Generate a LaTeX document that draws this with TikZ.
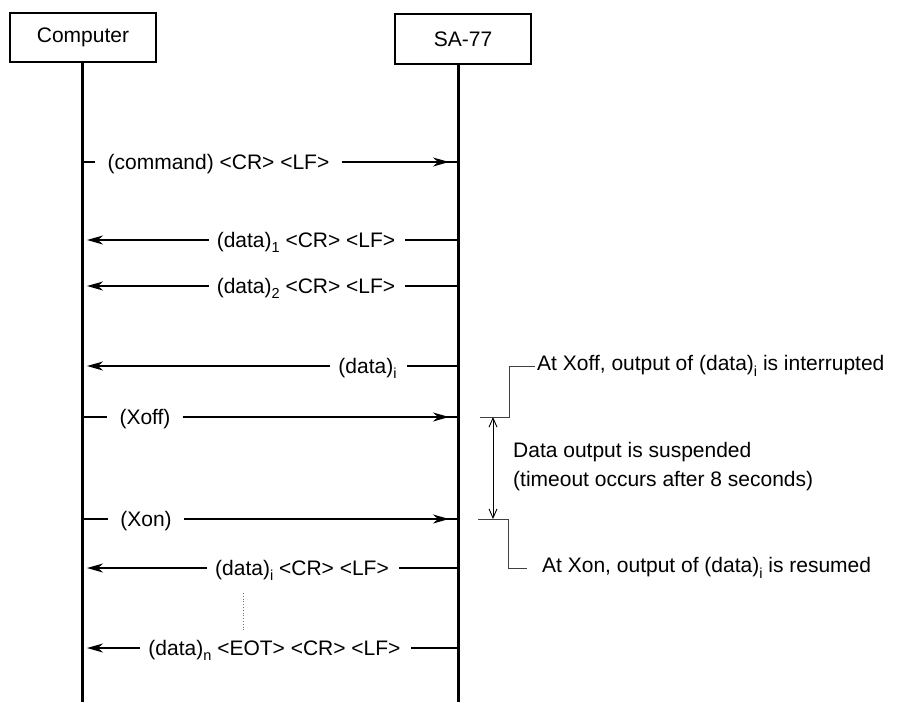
\documentclass[tikz,border=0pt]{standalone}
\usepackage{fontspec}
\setmainfont{Liberation Sans}
\usetikzlibrary{arrows.meta}
\newcommand\dsub[1]{\raisebox{-0.5ex}{\fontsize{14.5}{15}\selectfont #1}}
\begin{document}
\begin{tikzpicture}[x=1pt,y=-1pt,
  every node/.style={font=\fontsize{21}{29}\selectfont, inner sep=0pt},
  box/.style={draw, line width=2.5pt},
  life/.style={line width=3pt},
  msg/.style={line width=1.4pt},
  rtip/.style={-{Stealth[length=16pt,width=9pt,inset=5pt]}, shorten >=9pt},
  ltip/.style={-{Stealth[length=16pt,width=9pt,inset=5pt]}, shorten >=5pt},
  lbl/.style={anchor=base},
  note/.style={line width=0.8pt, black!75},
  dim/.style={line width=0.9pt, {Straight Barb[length=9pt,width=8pt]}-{Straight Barb[length=9pt,width=8pt]}}]
\useasboundingbox (0,0) rectangle (902,702);

% participants
\node[box, minimum width=146pt, minimum height=49pt] (comp) at (83,37.5) {Computer};
\node[box, minimum width=136pt, minimum height=50pt] (sa) at (463,39) {SA-77};
\coordinate (cend) at (82,702);
\coordinate (send) at (458,702);
\draw[life] (comp.south -| cend) -- (cend);
\draw[life] (sa.south -| send) -- (send);

% message coordinates
\foreach \n/\y in {1/162,2/240,3/286,4/366,5/417,6/519,7/568,8/648}{
  \coordinate (c\n) at (82,\y);
  \coordinate (s\n) at (458,\y);
}

% labels
\node[lbl] (t1) at (218.5,169) {(command) <CR> <LF>};
\node[lbl] (t2) at (306,247) {(data)\dsub{1} <CR> <LF>};
\node[lbl] (t3) at (306,293) {(data)\dsub{2} <CR> <LF>};
\node[lbl] (t4) at (367.5,373) {(data)\dsub{i}};
\node[lbl] (t5) at (145,424) {(Xoff)};
\node[lbl] (t6) at (146,526) {(Xon)};
\node[lbl] (t7) at (302,575) {(data)\dsub{i} <CR> <LF>};
\node[lbl] (t8) at (274.5,655) {(data)\dsub{n} <EOT> <CR> <LF>};

% computer -> SA-77
\foreach \n in {1,5,6}{
  \draw[msg] (c\n) -- ([xshift=-12pt]t\n.west |- c\n);
  \draw[msg] ([xshift=12pt]t\n.east |- s\n) -- (s\n);
  \draw[msg,rtip] ([xshift=12pt]t\n.east |- s\n) -- (s\n);
}
% SA-77 -> computer
\foreach \n in {2,3,4,7,8}{
  \draw[msg] (s\n) -- ([xshift=10pt]t\n.east |- s\n);
  \draw[msg,ltip] ([xshift=-8pt]t\n.west |- c\n) -- (c\n);
}

% continuation dots
\coordinate (dt) at (243,593);
\coordinate (db) at (243,630);
\draw[dotted, line width=0.8pt, black!55] (dt) -- (db);

% annotations
\node[anchor=west] (noff) at (537,366) {At Xoff, output of (data)\dsub{i} is interrupted};
\node[anchor=west] (non) at (542,568) {At Xon, output of (data)\dsub{i} is resumed};
\node[anchor=west, align=left] (susp) at (513,466.5) {Data output is suspended\\(timeout occurs after 8 seconds)};

\coordinate (a1) at (480,417);
\coordinate (k1) at (509,417);
\coordinate (a2) at (478,519);
\coordinate (k2) at (508,519);
\draw[note] (a1) -- (k1) |- ([xshift=-2pt]noff.west);
\draw[note] (a2) -- (k2) |- ([xshift=-15pt]non.west);

\coordinate (d1) at (493,417);
\coordinate (d2) at (493,519);
\draw[dim] (d1) -- (d2);
\end{tikzpicture}
\end{document}
